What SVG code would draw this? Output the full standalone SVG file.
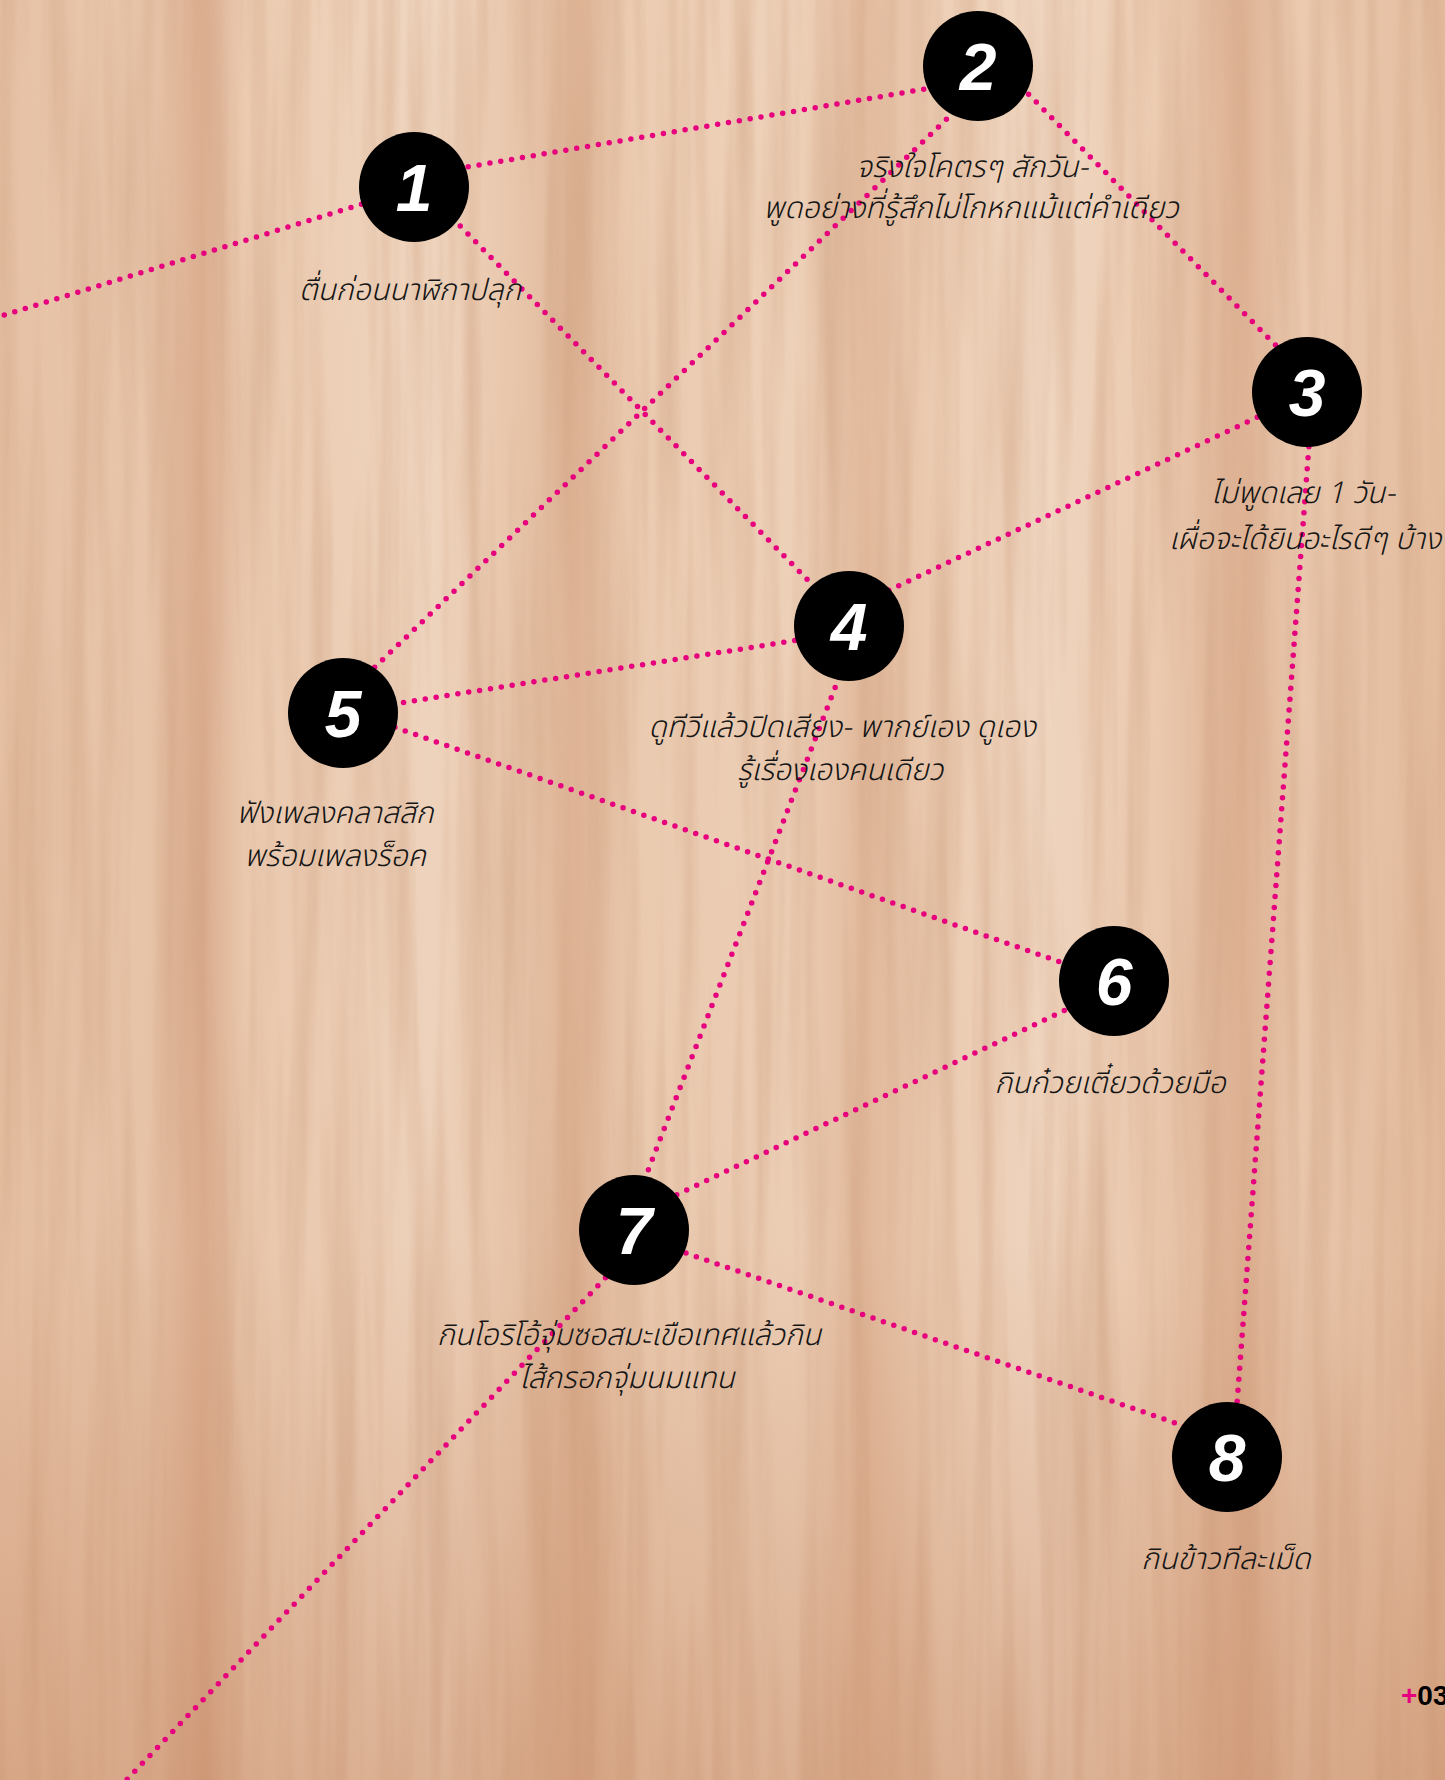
<svg xmlns="http://www.w3.org/2000/svg" width="1445" height="1780" viewBox="0 0 1445 1780">
<defs>
<style>
.dot{fill:none;stroke:#e6007e;stroke-width:5.5;stroke-linecap:round;stroke-dasharray:0 11}
.disc{fill:#000}
.num{font-family:"Liberation Sans",Arial,sans-serif;font-weight:bold;font-style:italic;font-size:66px;fill:#fff;text-anchor:middle}
.lbl{font-family:"Noto Sans Thai","Noto Sans","DejaVu Sans",sans-serif;font-style:italic;font-weight:300;font-size:30px;fill:#151515;text-anchor:middle}
.tag{font-family:"Liberation Sans",Arial,sans-serif;font-weight:bold;font-size:28px}
</style>
<linearGradient id="planks" x1="0" y1="0" x2="1" y2="0">
<stop offset="0" stop-color="#e7c2a6"/>
<stop offset="0.1" stop-color="#e9c7ac"/>
<stop offset="0.14" stop-color="#dcae90"/>
<stop offset="0.17" stop-color="#ebcbb1"/>
<stop offset="0.3" stop-color="#f0d6c0"/>
<stop offset="0.36" stop-color="#e8c6ab"/>
<stop offset="0.4" stop-color="#dfb597"/>
<stop offset="0.44" stop-color="#eccdb3"/>
<stop offset="0.55" stop-color="#eed2ba"/>
<stop offset="0.6" stop-color="#e3bb9e"/>
<stop offset="0.65" stop-color="#edcfb6"/>
<stop offset="0.72" stop-color="#f1d8c3"/>
<stop offset="0.8" stop-color="#ecccb2"/>
<stop offset="0.86" stop-color="#dfb395"/>
<stop offset="0.9" stop-color="#ebcab0"/>
<stop offset="1" stop-color="#e4bd9f"/>
</linearGradient>
<linearGradient id="shade" x1="0" y1="0" x2="0" y2="1">
<stop offset="0" stop-color="#b8724a" stop-opacity="0"/>
<stop offset="0.7" stop-color="#b8724a" stop-opacity="0.05"/>
<stop offset="1" stop-color="#b8724a" stop-opacity="0.35"/>
</linearGradient>
<filter id="grain" x="0" y="0" width="100%" height="100%">
<feTurbulence type="fractalNoise" baseFrequency="0.045 0.0018" numOctaves="3" seed="11"/>
<feColorMatrix type="matrix" values="0 0 0 0 0.62  0 0 0 0 0.36  0 0 0 0 0.22  1.6 0 0 0 -0.62"/>
</filter>
</defs>
<g id="background">
<rect width="1445" height="1780" fill="url(#planks)"/>
<rect width="1445" height="1780" filter="url(#grain)" opacity="0.6"/>
<rect width="1445" height="1780" fill="url(#shade)"/>
</g>
<g id="connectors">
<line class="dot" x1="414" y1="188" x2="-5" y2="318"/>
<line class="dot" x1="414" y1="176" x2="978" y2="80"/>
<line class="dot" x1="414" y1="179" x2="849" y2="622"/>
<line class="dot" x1="1002" y1="66" x2="327" y2="713"/>
<line class="dot" x1="990" y1="55" x2="1300" y2="370"/>
<line class="dot" x1="1307" y1="394" x2="849" y2="609"/>
<line class="dot" x1="1313" y1="392" x2="1233" y2="1457"/>
<line class="dot" x1="849" y1="632" x2="343" y2="712"/>
<line class="dot" x1="859" y1="626" x2="625" y2="1230"/>
<line class="dot" x1="343" y1="709" x2="1114" y2="981"/>
<line class="dot" x1="1114" y1="987" x2="634" y2="1215"/>
<line class="dot" x1="634" y1="1235" x2="1227" y2="1441"/>
<line class="dot" x1="651" y1="1230" x2="117" y2="1790"/>
</g>
<g id="node-1">
<circle class="disc" cx="414" cy="187" r="55"/>
<text class="num" x="414" y="211">1</text>
<text class="lbl" x="410" y="300">ตื่นก่อนนาฬิกาปลุก</text>
</g>
<g id="node-2">
<circle class="disc" cx="978" cy="66" r="55"/>
<text class="num" x="978" y="90">2</text>
<text class="lbl" x="972" y="177">จริงใจโคตรๆ สักวัน-</text>
<text class="lbl" x="971" y="218">พูดอย่างที่รู้สึกไม่โกหกแม้แต่คำเดียว</text>
</g>
<g id="node-3">
<circle class="disc" cx="1307" cy="392" r="55"/>
<text class="num" x="1307" y="416">3</text>
<text class="lbl" x="1303" y="503">ไม่พูดเลย 1 วัน-</text>
<text class="lbl" x="1305" y="549">เผื่อจะได้ยินอะไรดีๆ บ้าง</text>
</g>
<g id="node-4">
<circle class="disc" cx="849" cy="626" r="55"/>
<text class="num" x="849" y="650">4</text>
<text class="lbl" x="842" y="737">ดูทีวีแล้วปิดเสียง- พากย์เอง ดูเอง</text>
<text class="lbl" x="840" y="780">รู้เรื่องเองคนเดียว</text>
</g>
<g id="node-5">
<circle class="disc" cx="343" cy="713" r="55"/>
<text class="num" x="343" y="737">5</text>
<text class="lbl" x="335" y="823">ฟังเพลงคลาสสิก</text>
<text class="lbl" x="335" y="866">พร้อมเพลงร็อค</text>
</g>
<g id="node-6">
<circle class="disc" cx="1114" cy="981" r="55"/>
<text class="num" x="1114" y="1005">6</text>
<text class="lbl" x="1110" y="1093">กินก๋วยเตี๋ยวด้วยมือ</text>
</g>
<g id="node-7">
<circle class="disc" cx="634" cy="1230" r="55"/>
<text class="num" x="634" y="1254">7</text>
<text class="lbl" x="629" y="1345">กินโอริโอ้จุ่มซอสมะเขือเทศแล้วกิน</text>
<text class="lbl" x="627" y="1388">ไส้กรอกจุ่มนมแทน</text>
</g>
<g id="node-8">
<circle class="disc" cx="1227" cy="1457" r="55"/>
<text class="num" x="1227" y="1481">8</text>
<text class="lbl" x="1226" y="1569">กินข้าวทีละเม็ด</text>
</g>
<g id="page-tag">
<text class="tag" x="1401" y="1705"><tspan fill="#e6007e">+</tspan><tspan fill="#000">03</tspan></text>
</g>
</svg>
